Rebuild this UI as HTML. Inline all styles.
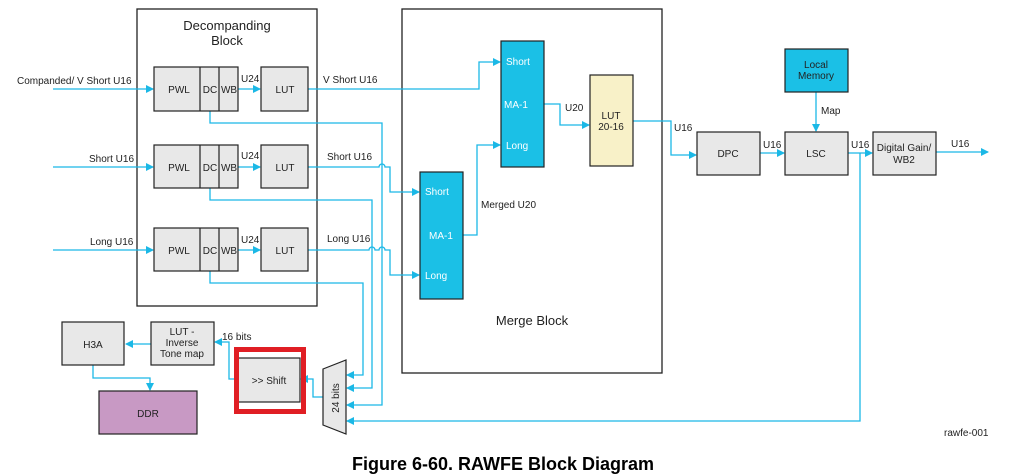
<!DOCTYPE html>
<html><head><meta charset="utf-8"><style>
html,body{margin:0;padding:0;background:#fff}
svg{display:block}
text{font-family:"Liberation Sans",sans-serif;fill:#222}
</style></head><body>
<svg width="1013" height="475" viewBox="0 0 1013 475" xmlns="http://www.w3.org/2000/svg">
<defs>
<marker id="a" markerWidth="8" markerHeight="8" refX="7" refY="4" orient="auto" markerUnits="userSpaceOnUse">
<path d="M0,0 L8,4 L0,8 Z" fill="#1bb8e6"/></marker>
</defs>
<g fill="none" stroke="#222" stroke-width="1.3">
<rect x="137" y="9" width="180" height="297"/>
<rect x="402" y="9" width="260" height="364"/>
</g>
<text x="227" y="30" font-size="13" text-anchor="middle">Decompanding</text>
<text x="227" y="45" font-size="13" text-anchor="middle">Block</text>
<text x="532" y="325" font-size="13" text-anchor="middle">Merge Block</text>

<!-- connectors -->
<g fill="none" stroke="#1bb8e6" stroke-width="1.3">
<path d="M53,89 H153" marker-end="url(#a)"/>
<path d="M53,167 H153" marker-end="url(#a)"/>
<path d="M53,250 H153" marker-end="url(#a)"/>
<path d="M238,89 H260" marker-end="url(#a)"/>
<path d="M238,167 H260" marker-end="url(#a)"/>
<path d="M238,250 H260" marker-end="url(#a)"/>
<path d="M308,89 H479 V62 H500" marker-end="url(#a)"/>
<path d="M308,167 H379 a3,3 0 0 1 6,0 H390 V192 H419" marker-end="url(#a)"/>
<path d="M308,250 H369 a3,3 0 0 1 6,0 H379 a3,3 0 0 1 6,0 H390 V275 H419" marker-end="url(#a)"/>
<path d="M463,235 H477 V145 H500" marker-end="url(#a)"/>
<path d="M544,104 H560 V125 H589" marker-end="url(#a)"/>
<path d="M633,121 H671 V155 H696" marker-end="url(#a)"/>
<path d="M760,153 H784" marker-end="url(#a)"/>
<path d="M848,153 H872" marker-end="url(#a)"/>
<path d="M936,152 H988" marker-end="url(#a)"/>
<path d="M816,92 V131" marker-end="url(#a)"/>
<path d="M860,153 V421 H347" marker-end="url(#a)"/>
<path d="M210,111 V123 H382 V405 H347" marker-end="url(#a)"/>
<path d="M210,188 V200 H372 V388 H347" marker-end="url(#a)"/>
<path d="M210,271 V283 H363 V375 H347" marker-end="url(#a)"/>
<path d="M323,397 H313 V379 H301" marker-end="url(#a)"/>
<path d="M238,379 H229 V342 H215" marker-end="url(#a)"/>
<path d="M151,344 H126" marker-end="url(#a)"/>
<path d="M93,365 V378 H150 V390" marker-end="url(#a)"/>
</g>

<!-- decompanding rows -->
<g fill="#e8e8e8" stroke="#222" stroke-width="1.2">
<rect x="154" y="67" width="84" height="44"/><line x1="200" y1="67" x2="200" y2="111"/><line x1="219" y1="67" x2="219" y2="111"/>
<rect x="261" y="67" width="47" height="44"/>
<rect x="154" y="145" width="84" height="43"/><line x1="200" y1="145" x2="200" y2="188"/><line x1="219" y1="145" x2="219" y2="188"/>
<rect x="261" y="145" width="47" height="43"/>
<rect x="154" y="228" width="84" height="43"/><line x1="200" y1="228" x2="200" y2="271"/><line x1="219" y1="228" x2="219" y2="271"/>
<rect x="261" y="228" width="47" height="43"/>
<rect x="697" y="132" width="63" height="43"/>
<rect x="785" y="132" width="63" height="43"/>
<rect x="873" y="132" width="63" height="43"/>
<rect x="62" y="322" width="62" height="43"/>
<rect x="151" y="322" width="63" height="43"/>
<rect x="238" y="358" width="62" height="44"/>
<path d="M323,369 L346,360 L346,434 L323,425 Z"/>
</g>
<rect x="99" y="391" width="98" height="43" fill="#c899c4" stroke="#222" stroke-width="1.2"/>
<rect x="236.5" y="349.5" width="67" height="62" fill="none" stroke="#e01e24" stroke-width="5"/>
<g stroke="#222" stroke-width="1.2">
<rect x="501" y="41" width="43" height="126" fill="#1bc0e6"/>
<rect x="420" y="172" width="43" height="127" fill="#1bc0e6"/>
<rect x="785" y="49" width="63" height="43" fill="#1bc0e6"/>
<rect x="590" y="75" width="43" height="91" fill="#f8f1c8"/>
</g>

<g font-size="10">
<text x="17" y="84">Companded/ V Short U16</text>
<text x="89" y="162">Short U16</text>
<text x="90" y="245">Long U16</text>
<g text-anchor="middle">
<text x="179" y="93">PWL</text><text x="210" y="93">DC</text><text x="229" y="93">WB</text><text x="285" y="93">LUT</text>
<text x="179" y="171">PWL</text><text x="210" y="171">DC</text><text x="229" y="171">WB</text><text x="285" y="171">LUT</text>
<text x="179" y="254">PWL</text><text x="210" y="254">DC</text><text x="229" y="254">WB</text><text x="285" y="254">LUT</text>
<text x="728" y="157">DPC</text>
<text x="816" y="157">LSC</text>
<text x="904" y="151">Digital Gain/</text><text x="904" y="163">WB2</text>
<text x="93" y="348">H3A</text>
<text x="182" y="335">LUT -</text><text x="182" y="346">Inverse</text><text x="182" y="357">Tone map</text>
<text x="269" y="384">&gt;&gt; Shift</text>
<text x="148" y="417">DDR</text>
<text x="611" y="119">LUT</text><text x="611" y="130">20-16</text>
<text x="516" y="108" fill="#fff" style="fill:#fff">MA-1</text>
<text x="441" y="239" style="fill:#fff">MA-1</text>
<text x="816" y="68">Local</text><text x="816" y="79">Memory</text>
</g>
<text x="506" y="65" style="fill:#fff">Short</text>
<text x="506" y="149" style="fill:#fff">Long</text>
<text x="425" y="195" style="fill:#fff">Short</text>
<text x="425" y="279" style="fill:#fff">Long</text>
<text x="241" y="82">U24</text><text x="241" y="159">U24</text><text x="241" y="243">U24</text>
<text x="323" y="83">V Short U16</text>
<text x="327" y="160">Short U16</text>
<text x="327" y="242">Long U16</text>
<text x="481" y="208">Merged U20</text>
<text x="565" y="111">U20</text>
<text x="674" y="131">U16</text>
<text x="763" y="148">U16</text>
<text x="851" y="148">U16</text>
<text x="951" y="147">U16</text>
<text x="821" y="114">Map</text>
<text x="222" y="340">16 bits</text>
<text x="944" y="436">rawfe-001</text>
<text transform="translate(339,398) rotate(-90)" text-anchor="middle">24 bits</text>
</g>
<text x="503" y="470" font-size="18" font-weight="bold" text-anchor="middle" style="fill:#000">Figure 6-60. RAWFE Block Diagram</text>
</svg>
</body></html>
